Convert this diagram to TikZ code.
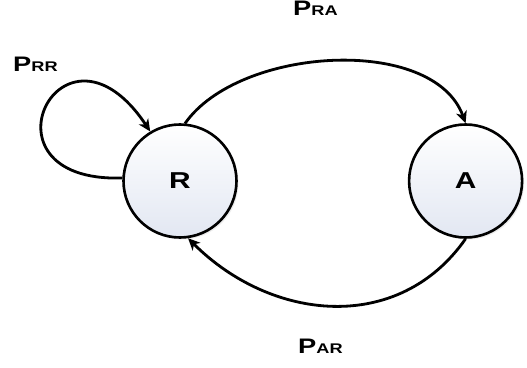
\documentclass[tikz,border=0pt]{standalone}
\usepackage{fontspec}
\setmainfont{Liberation Sans}
\newfontfamily\statefont[FakeStretch=1.3]{Liberation Sans Bold}
\usetikzlibrary{positioning}
\usetikzlibrary{arrows.meta,shadows}
\definecolor{statefill}{RGB}{226,231,242}
% transition label: big P, smaller state pair
\newcommand{\trans}[1]{{\fontsize{21}{21}\selectfont P}{\fontsize{14}{14}\selectfont #1}}

\begin{document}
\begin{tikzpicture}[x=1pt,y=1pt,state/.style={circle,draw,line width=2.6pt,minimum size=113pt,inner sep=0pt,top color=white,bottom color=statefill,drop shadow={shadow xshift=2pt,shadow yshift=-2pt,opacity=0.15},font=\statefont\fontsize{23}{23}\selectfont,node distance=170pt},edge/.style={line width=2.8pt,-{Stealth[length=12pt,width=11pt,inset=3.5pt]}},prob/.style={anchor=base west,inner sep=0pt,font=\statefont}]
        \useasboundingbox (0,0) rectangle (527,367);
        \node[state](R) at (180,186){R};
        \node[state,right=of R](A){A};
        %
        \draw[edge] (R.85) to[out=55,in=110,looseness=0.86] (A.north);
        \draw[edge] (A.south) to[out=235,in=-45,looseness=1.08] (R.-82);
        \draw[edge] (R.177) .. controls +(-152,-5) and +(-88,132) .. (R.121);
        %
        \node[prob](prr) at (13,295){\trans{RR}};
        \node[prob](pra) at (293,351){\trans{RA}};
        \node[prob](par) at (298,14){\trans{AR}};
    \end{tikzpicture}
\end{document}
